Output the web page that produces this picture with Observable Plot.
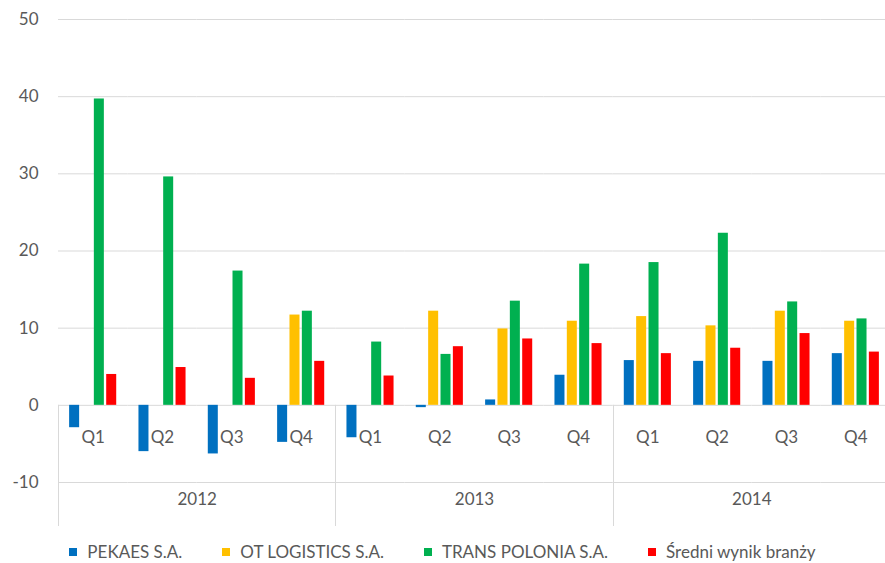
<!DOCTYPE html>
<html>
<head>
<meta charset="utf-8">
<script src="https://cdn.jsdelivr.net/npm/d3@7"></script>
<script src="https://cdn.jsdelivr.net/npm/@observablehq/plot@0.6"></script>
<style>
  html, body { margin: 0; padding: 0; background: #fff; overflow: hidden; }
  #chart { position: relative; width: 885px; height: 563px; overflow: hidden; }
  #chart svg { overflow: hidden; }
  .legend { position: absolute; left: 0; top: 541px; width: 885px; display: flex; justify-content: center; gap: 40px;
            font-family: Lato, "Liberation Sans", sans-serif; font-size: 17px; color: #595959; }
  .legend .item { display: flex; align-items: center; }
  .legend .sw { width: 8px; height: 8px; margin-right: 10px; }
</style>
</head>
<body>
<div id="chart"></div>
<script>
const years = ["2012", "2013", "2014"];
const quarters = ["Q1", "Q2", "Q3", "Q4"];
const series = ["PEKAES S.A.", "OT LOGISTICS S.A.", "TRANS POLONIA S.A.", "Średni wynik branży"];
const colors = ["#0070C0", "#FFC000", "#00B050", "#FF0000"];
const yTicks = [-10, 0, 10, 20, 30, 40, 50];

const pekaes       = [-2.9, -6.0, -6.3, -4.8, -4.2, -0.3, 0.7, 3.9, 5.8, 5.7, 5.7, 6.7];
const otLogistics  = [null, null, null, 11.7, null, 12.2, 9.9, 10.9, 11.5, 10.3, 12.2, 10.9];
const transPolonia = [39.7, 29.6, 17.4, 12.2, 8.2, 6.6, 13.5, 18.3, 18.5, 22.3, 13.4, 11.2];
const srednia      = [4.0, 4.9, 3.5, 5.7, 3.8, 7.6, 8.6, 8.0, 6.7, 7.4, 9.3, 6.9];

const seriesValues = [pekaes, otLogistics, transPolonia, srednia];
const keys = years.flatMap(y => quarters.map(q => y + " " + q));
const qLabels = keys.map(k => ({key: k, q: k.split(" ")[1]}));
const rows = [];
keys.forEach((k, i) => {
  series.forEach((s, j) => {
    const v = seriesValues[j][i];
    if (v != null) rows.push({key: k, series: s, value: v});
  });
});

const plot = Plot.plot({
  width: 885,
  height: 530,
  marginLeft: 58,
  marginRight: -5,
  marginTop: 19,
  marginBottom: 48,
  style: {fontFamily: "Lato, 'Liberation Sans', sans-serif", fontSize: "17px", color: "#595959", background: "white"},
  fx: {domain: keys, padding: 0, round: false, axis: null},
  x: {domain: series, paddingInner: 0.19, paddingOuter: 0.9, round: false, axis: null},
  y: {domain: [-10, 50]},
  color: {domain: series, range: colors},
  marks: [
    Plot.gridY(yTicks, {stroke: "#d9d9d9", strokeOpacity: 1, strokeWidth: 1}),
    Plot.axisY(yTicks, {tickSize: 0, tickPadding: 20, fontSize: 17, fill: "#595959", label: null, tickFormat: d => String(d)}),
    Plot.barY(rows, {fx: "key", x: "series", y: "value", fill: "series"}),
    Plot.text(qLabels, {fx: "key", y: () => 0, text: "q", dy: 32, fill: "#595959", fontSize: 17}),
    Plot.text(years, {fx: d => d + " Q2", text: d => d, frameAnchor: "bottom-right", textAnchor: "middle", dy: 22, fill: "#595959", fontSize: 17})
  ]
});

// year separators drawn through the library's scales
const fxs = plot.scale("fx");
const ys = plot.scale("y");
const svg = d3.select(plot);
years.forEach(y => {
  const x = Math.round(fxs.apply(y + " Q1")) + 0.5;
  svg.append("line")
    .attr("x1", x).attr("x2", x)
    .attr("y1", ys.apply(0)).attr("y2", 526)
    .attr("stroke", "#d9d9d9").attr("stroke-width", 1);
});

const chart = document.getElementById("chart");
chart.appendChild(plot);

const legend = document.createElement("div");
legend.className = "legend";
series.forEach((s, i) => {
  const item = document.createElement("div");
  item.className = "item";
  const sw = document.createElement("span");
  sw.className = "sw";
  sw.style.background = colors[i];
  const t = document.createElement("span");
  t.textContent = s;
  item.appendChild(sw);
  item.appendChild(t);
  legend.appendChild(item);
});
chart.appendChild(legend);
</script>
</body>
</html>
